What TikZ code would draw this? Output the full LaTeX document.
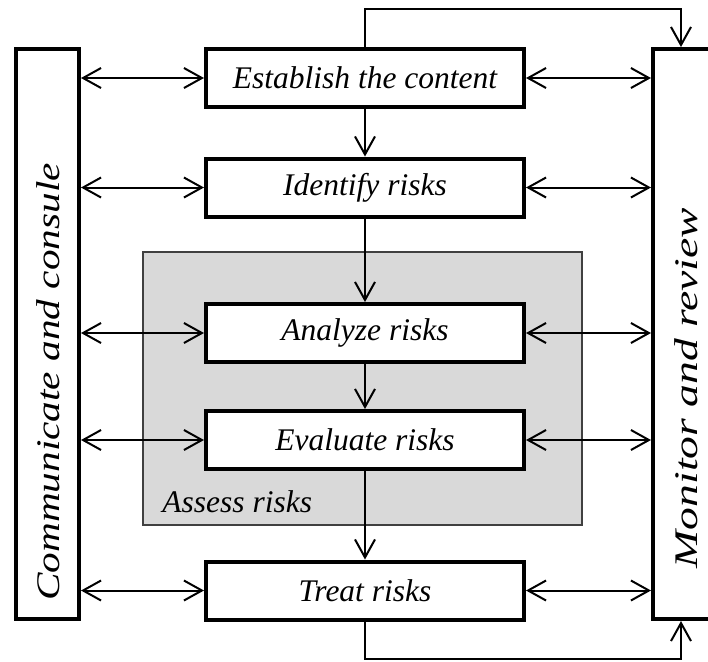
\documentclass[tikz,border=0pt]{standalone}
\usepackage{fontspec}
\setmainfont{Liberation Serif}
\usetikzlibrary{arrows.meta}

\begin{document}
\begin{tikzpicture}[x=0.5pt,y=-0.5pt,
  txt/.style={font=\fontsize{15.75}{18}\selectfont\itshape},
  stepbox/.style={txt, draw, line width=2pt, fill=white, minimum width=159pt, minimum height=29pt, inner sep=0pt},
  sidebox/.style={draw, line width=2pt, fill=white, minimum width=31.5pt, minimum height=285pt, inner sep=0pt},
  sidetxt/.style={rotate=90, inner sep=0pt, font=\fontsize{16.5}{19}\selectfont\itshape},
  assessbox/.style={draw=black!75, line width=0.75pt, fill=black!15, minimum width=219.5pt, minimum height=136.5pt},
  arr/.style={-{Straight Barb[length=9pt,width=10pt]}, line width=1pt},
  dbl/.style={{Straight Barb[length=9pt,width=10pt]}-{Straight Barb[length=9pt,width=10pt]}, line width=1pt}]
\useasboundingbox (0,0) rectangle (708,661);
\node[assessbox] (asr) at (362.5,388.5) {};
\node[txt, anchor=base west, inner sep=0pt] (asl) at (162,512) {Assess risks};
\node[stepbox] (est) at (365,78) {Establish the content};
\node[stepbox] (idf) at (365,187.5) {Identify risks};
\node[stepbox] (ana) at (365,333) {Analyze risks};
\node[stepbox] (eva) at (365,440) {Evaluate risks};
\node[stepbox] (trt) at (365,590.5) {Treat risks};
\node[sidebox] (comm) at (47.5,334) {};
\node[sidebox] (mon) at (684.5,334) {};
\node[sidetxt] (commtxt) at (48,382) {\scalebox{1.25}[1]{Communicate and consule}};
\node[sidetxt] (montxt) at (686,388) {\scalebox{1.38}[1]{Monitor and review}};
\foreach \n in {est,idf,ana,eva,trt}{
  \draw[dbl] (comm.east |- \n.west) -- (\n.west);
  \draw[dbl] (\n.east) -- (mon.west |- \n.east);
}
\draw[arr] (est.south) -- (idf.north);
\draw[arr] (idf.south) -- (ana.north);
\draw[arr] (ana.south) -- (eva.north);
\draw[arr] (eva.south) -- (trt.north);
\coordinate (topc) at (681,9);
\coordinate (botc) at (681,659);
\draw[arr] (est.north) |- (topc) -- (topc |- mon.north);
\draw[arr] (trt.south) |- (botc) -- (botc |- mon.south);
\end{tikzpicture}
\end{document}
